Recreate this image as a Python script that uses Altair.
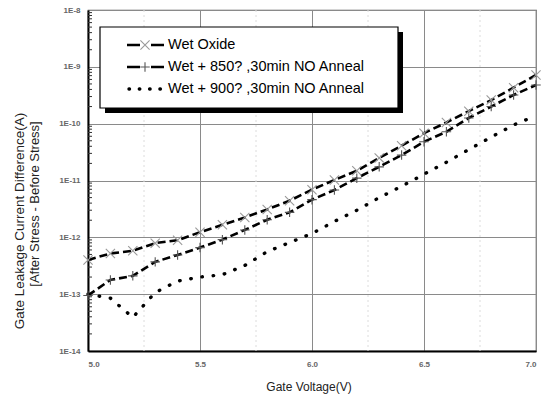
import altair as alt
import pandas as pd

# ---- data ----
voltage = [5.0, 5.1, 5.2, 5.3, 5.4, 5.5, 5.6, 5.7, 5.8, 5.9, 6.0,
           6.1, 6.2, 6.3, 6.4, 6.5, 6.6, 6.7, 6.8, 6.9, 7.0]
wet_oxide = [4.0e-13, 5.2e-13, 5.8e-13, 7.9e-13, 8.9e-13, 1.23e-12, 1.66e-12,
             2.24e-12, 3.1e-12, 4.4e-12, 6.9e-12, 1.02e-11, 1.48e-11, 2.5e-11,
             4.1e-11, 6.8e-11, 1.05e-10, 1.66e-10, 2.6e-10, 4.3e-10, 7.2e-10]
wet_850 = [9.5e-14, 1.78e-13, 2.1e-13, 3.7e-13, 4.9e-13, 6.6e-13, 9.1e-13,
           1.35e-12, 2.04e-12, 2.75e-12, 4.6e-12, 6.8e-12, 1.10e-11, 1.74e-11,
           2.8e-11, 4.8e-11, 7.2e-11, 1.26e-10, 2.0e-10, 3.2e-10, 4.8e-10]
wet_900 = [1.0e-13, 8.5e-14, 3.9e-14, 1.07e-13, 1.7e-13, 2.0e-13, 2.2e-13,
           3.2e-13, 5.6e-13, 8.1e-13, 1.17e-12, 1.9e-12, 3.0e-12, 5.0e-12,
           7.9e-12, 1.29e-11, 2.1e-11, 3.5e-11, 5.8e-11, 9.5e-11, 1.38e-10]
series_names = ["Wet Oxide", "Wet + 850? ,30min NO Anneal", "Wet + 900? ,30min NO Anneal"]
x_ticks = [5.0, 5.5, 6.0, 6.5, 7.0]
x_minor = [5.25, 5.75, 6.25, 6.75]
y_ticks = [1e-14, 1e-13, 1e-12, 1e-11, 1e-10, 1e-9, 1e-8]
y_minor = [m * d for d in [1e-14, 1e-13, 1e-12, 1e-11, 1e-10, 1e-9] for m in range(2, 10)]

FONT = "Liberation Sans"
W, H = 448, 341

def frame(vals):
    return pd.DataFrame({"V": voltage, "I": vals})

xs = alt.Scale(domain=[5.0, 7.0], nice=False, zero=False)
ys = alt.Scale(type="log", domain=[1e-14, 1e-8], nice=False)

x_axis = alt.Axis(values=x_ticks, format=".1f", title=None, grid=True,
                  gridColor="#8a8a8a", gridWidth=1, tickSize=0, labelPadding=9,
                  labelFontSize=8, labelColor="#666", labelFont=FONT,
                  domainColor="black", domainWidth=2, labelFontWeight="bold")
y_axis = alt.Axis(values=y_ticks, title=None, grid=True, gridColor="#8a8a8a",
                  gridWidth=1, tickSize=0, labelPadding=8, labelFontSize=8,
                  labelColor="#666", labelFont=FONT, labelFontWeight="bold",
                  labelExpr="'1E-' + round(-log(datum.value)/LN10)",
                  domainColor="black", domainWidth=2)

one = pd.DataFrame({"a": [0]})

# faint minor vertical grid
minor_grid = alt.Chart(pd.DataFrame({"V": x_minor})).mark_rule(
    color="#dcdcdc", strokeDash=[2, 3], strokeWidth=1
).encode(x=alt.X("V:Q", scale=xs, axis=x_axis), y=alt.value(0), y2=alt.value(H))

# minor ticks on left axis (inward)
minor_ticks = alt.Chart(pd.DataFrame({"I": y_minor})).mark_rule(
    color="#333", strokeWidth=1
).encode(y=alt.Y("I:Q", scale=ys, axis=y_axis), x=alt.value(0), x2=alt.value(4))

x_path = "M-1,-1L1,1M-1,1L1,-1"
p_path = "M-1,0L1,0M0,-1L0,1"

line_ox = alt.Chart(frame(wet_oxide)).mark_line(
    color="black", strokeWidth=2.6, strokeDash=[8, 4]
).encode(x=alt.X("V:Q", scale=xs), y=alt.Y("I:Q", scale=ys))
pts_ox = alt.Chart(frame(wet_oxide)).mark_point(
    shape=x_path, size=85, color="#999", strokeWidth=1.1, filled=False, opacity=1
).encode(x=alt.X("V:Q", scale=xs), y=alt.Y("I:Q", scale=ys))

line_850 = alt.Chart(frame(wet_850)).mark_line(
    color="black", strokeWidth=2.6, strokeDash=[8, 4]
).encode(x=alt.X("V:Q", scale=xs), y=alt.Y("I:Q", scale=ys))
pts_850 = alt.Chart(frame(wet_850)).mark_point(
    shape=p_path, size=90, color="#555", strokeWidth=1.1, filled=False, opacity=1
).encode(x=alt.X("V:Q", scale=xs), y=alt.Y("I:Q", scale=ys))

line_900 = alt.Chart(frame(wet_900)).mark_line(
    color="black", strokeWidth=3.4, strokeDash=[0.5, 10.8], strokeCap="round"
).encode(x=alt.X("V:Q", scale=xs), y=alt.Y("I:Q", scale=ys))

# ---- legend box with shadow ----
lx0, lx1, ly0, ly1 = 12, 310, 17, 98
shadow = alt.Chart(one).mark_rect(color="black").encode(
    x=alt.value(lx0 + 5), x2=alt.value(lx1 + 5), y=alt.value(ly0 + 5), y2=alt.value(ly1 + 5))
box = alt.Chart(one).mark_rect(fill="white", stroke="black", strokeWidth=1.2).encode(
    x=alt.value(lx0), x2=alt.value(lx1), y=alt.value(ly0), y2=alt.value(ly1))

rows_y = [35, 57, 79]
sx0, sx1, smid, tx = 39, 76, 57, 80

leg_items = []
for i, yv in enumerate(rows_y[:2]):
    leg_items.append(alt.Chart(one).mark_rule(color="black", strokeWidth=2.6, strokeDash=[13, 11]).encode(
        x=alt.value(sx0), x2=alt.value(sx1), y=alt.value(yv)))
leg_items.append(alt.Chart(one).mark_point(shape=x_path, size=85, color="#999", strokeWidth=1.1,
                                           filled=False, opacity=1).encode(
    x=alt.value(smid), y=alt.value(rows_y[0])))
leg_items.append(alt.Chart(one).mark_point(shape=p_path, size=90, color="#555", strokeWidth=1.1,
                                           filled=False, opacity=1).encode(
    x=alt.value(smid), y=alt.value(rows_y[1])))
leg_items.append(alt.Chart(one).mark_rule(color="black", strokeWidth=3.4, strokeDash=[0.5, 9.8],
                                          strokeCap="round").encode(
    x=alt.value(sx0 + 2), x2=alt.value(sx1 - 3), y=alt.value(rows_y[2])))
for name, yv in zip(series_names, rows_y):
    leg_items.append(alt.Chart(one).mark_text(
        text=name, align="left", baseline="middle", font=FONT, fontSize=14.5, color="#000"
    ).encode(x=alt.value(tx), y=alt.value(yv)))

# ---- axis titles ----
titles = [
    alt.Chart(one).mark_text(text="Gate Voltage(V)", font=FONT, fontSize=12, color="#222",
                             align="center", baseline="middle").encode(
        x=alt.value(221), y=alt.value(377)),
    alt.Chart(one).mark_text(text="Gate Leakage Current Difference(A)", font=FONT, fontSize=13.5,
                             color="#222", align="center", baseline="middle", angle=270).encode(
        x=alt.value(-68), y=alt.value(211)),
    alt.Chart(one).mark_text(text="[After Stress - Before Stress]", font=FONT, fontSize=13,
                             color="#222", align="center", baseline="middle", angle=270).encode(
        x=alt.value(-53), y=alt.value(194)),
]

chart = alt.layer(
    minor_grid, minor_ticks, line_900, line_850, line_ox, pts_850, pts_ox,
    shadow, box, *leg_items, *titles
).resolve_scale(x="shared", y="shared").properties(
    width=W, height=H,
    padding={"left": 88, "top": 10, "right": 6, "bottom": 46},
    autosize=alt.AutoSizeParams(type="none"),
    background="white",
).configure_view(stroke="#555", strokeWidth=1.2)

chart.save("out.html", embed_options={"renderer": "svg", "actions": False})
